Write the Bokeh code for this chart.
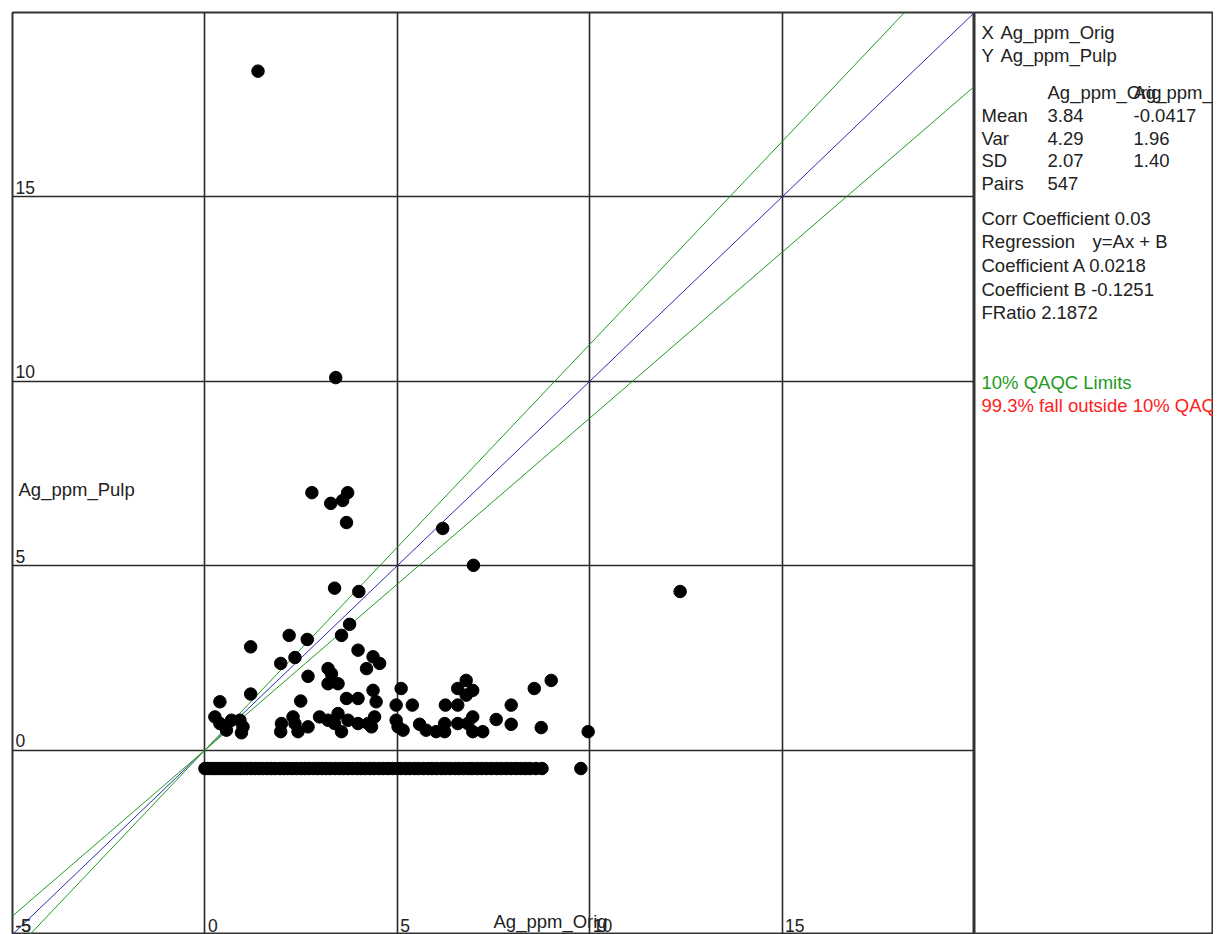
from bokeh.plotting import figure
from bokeh.layouts import row
from bokeh.models import Range1d, FixedTicker
from bokeh.core.properties import value
from bokeh.embed import file_html
from bokeh.resources import INLINE

FONT = "Liberation Sans"

# ---- data ----
orig_hi = [1.38, 3.40, 2.78, 3.27, 3.58, 3.71, 3.68, 6.18, 6.98, 12.35, 3.37, 4.00,
           2.19, 2.66, 3.55, 3.76, 1.19, 3.98, 4.37, 4.54, 4.20, 1.97, 2.34, 3.20,
           3.29, 2.68, 3.20, 3.46, 5.10, 4.37, 1.19, 0.39, 2.49, 3.68, 3.98, 4.45,
           4.97, 0.26, 0.39, 0.56, 0.69, 0.91, 0.99, 0.95, 1.99, 1.97, 2.29, 2.34,
           2.42, 2.68, 2.98, 3.20, 3.37, 3.46, 3.55, 3.72, 3.98, 4.24, 4.41, 4.33,
           4.97, 5.02, 5.39, 5.15, 5.58, 5.75, 6.01, 6.23, 6.23, 6.25, 6.57, 6.57,
           6.79, 6.57, 6.96, 6.79, 6.96, 6.83, 6.96, 7.22, 7.57, 7.96, 7.96, 8.56,
           9.00, 8.74, 9.96]
pulp_hi = [18.41, 10.10, 6.98, 6.69, 6.77, 6.98, 6.17, 6.01, 5.01, 4.30, 4.39, 4.30,
           3.11, 3.00, 3.11, 3.41, 2.80, 2.71, 2.53, 2.35, 2.21, 2.35, 2.51, 2.21,
           2.07, 2.00, 1.80, 1.80, 1.67, 1.62, 1.52, 1.31, 1.33, 1.40, 1.40, 1.31,
           1.22, 0.90, 0.72, 0.54, 0.81, 0.81, 0.63, 0.47, 0.72, 0.50, 0.90, 0.72,
           0.50, 0.63, 0.90, 0.81, 0.72, 0.99, 0.50, 0.81, 0.72, 0.72, 0.90, 0.63,
           0.81, 0.63, 1.22, 0.54, 0.70, 0.54, 0.50, 0.72, 0.50, 1.22, 1.22, 0.72,
           1.89, 1.67, 1.62, 1.49, 0.90, 0.72, 0.50, 0.50, 0.83, 1.22, 0.70, 1.67,
           1.89, 0.61, 0.50]

# pairs whose pulp value sits on the -0.5 row
bdl_orig = [0.0, 0.08, 0.17, 0.25, 0.33, 0.42, 0.5, 0.58, 0.66, 0.75, 0.83, 0.92,
            1.0, 1.1, 1.2, 1.3, 1.4, 1.5, 1.62, 1.72, 1.83, 1.95, 2.05, 2.15, 2.27,
            2.38, 2.5, 2.6, 2.7, 2.82, 2.93, 3.05, 3.15, 3.25, 3.38, 3.5, 3.6, 3.72,
            3.83, 3.95, 4.05, 4.17, 4.3, 4.4, 4.52, 4.63, 4.75, 4.87, 5.0, 5.1, 5.22,
            5.33, 5.45, 5.55, 5.68, 5.8, 5.9, 6.02, 6.15, 6.25, 6.37, 6.5, 6.6, 6.72,
            6.85, 6.95, 7.08, 7.2, 7.32, 7.45, 7.58, 7.7, 7.83, 7.95, 8.08, 8.2, 8.33,
            8.45, 8.6, 8.76, 9.77]
bdl_pulp_value = -0.5

axis_min, axis_max = -5, 20
tick_values = [-5, 0, 5, 10, 15]
tick_labels = ["-5", "0", "5", "10", "15"]
limit_pct = 0.10

x_title = "Ag_ppm_Orig"
y_title = "Ag_ppm_Pulp"

stats_rows = ["Mean", "Var", "SD", "Pairs"]
stats_orig = ["3.84", "4.29", "2.07", "547"]
stats_pulp = ["-0.0417", "1.96", "1.40", ""]
summary_lines = ["Corr Coefficient 0.03", "Coefficient A 0.0218",
                 "Coefficient B -0.1251", "FRatio 2.1872"]

TXT = "18.5px"

# ---- main plot ----
p = figure(width=974, height=934, output_backend="svg", toolbar_location=None,
           x_range=Range1d(axis_min, axis_max), y_range=Range1d(axis_min, axis_max),
           min_border_left=12, min_border_top=12, min_border_right=0, min_border_bottom=0,
           background_fill_color="white", border_fill_color="white")
p.xaxis.visible = False
p.yaxis.visible = False
for g in (p.xgrid, p.ygrid):
    g.ticker = FixedTicker(ticks=[0, 5, 10, 15])
    g.grid_line_color = "#2a2a2a"
    g.grid_line_width = 1.6
p.outline_line_color = "#333333"
p.outline_line_width = 2

ends = [axis_min, axis_max]
p.line(ends, ends, line_color="#2a2ab0", line_width=1)
p.line(ends, [v * (1 + limit_pct) for v in ends], line_color="#1f9a1f", line_width=1)
p.line(ends, [v * (1 - limit_pct) for v in ends], line_color="#1f9a1f", line_width=1)

all_x = orig_hi + bdl_orig
all_y = pulp_hi + [bdl_pulp_value] * len(bdl_orig)
p.scatter(all_x, all_y, size=12.5, marker="circle", fill_color="black", line_color="black")

# tick labels drawn inside the frame
p.text(x=[axis_min] * len(tick_values), y=tick_values, text=tick_labels,
       text_font=value(FONT), text_font_size="17.5px", text_color="#222222",
       text_baseline="bottom", text_align="left", x_offset=3, y_offset=-3)
p.text(x=tick_values, y=[axis_min] * len(tick_values), text=tick_labels,
       text_font=value(FONT), text_font_size="17.5px", text_color="#222222",
       text_baseline="bottom", text_align="left", x_offset=3, y_offset=-3)
mid = (axis_min + axis_max) / 2
p.text(x=[mid], y=[axis_min], text=[x_title], text_font=value(FONT),
       text_font_size=TXT, text_color="#222222", text_baseline="bottom",
       text_align="left", y_offset=-3)
p.text(x=[axis_min], y=[mid], text=[y_title], text_font=value(FONT),
       text_font_size=TXT, text_color="#222222", text_baseline="top",
       text_align="left", x_offset=6, y_offset=5)

# ---- stats panel ----
q = figure(width=239, height=934, output_backend="svg", toolbar_location=None,
           x_range=Range1d(0, 239), y_range=Range1d(922, 0),
           min_border_left=0, min_border_top=12, min_border_right=0, min_border_bottom=0,
           background_fill_color="white", border_fill_color="white")
q.xaxis.visible = False
q.yaxis.visible = False
q.xgrid.visible = False
q.ygrid.visible = False
q.outline_line_color = "#333333"
q.outline_line_width = 2

def ptext(xs, ys, texts, color="#222222"):
    q.text(x=xs, y=ys, text=texts, text_font=value(FONT), text_font_size=TXT,
           text_color=color, text_baseline="middle", text_align="left")

ptext([7, 26, 7, 26], [20, 20, 43, 43], ["X", x_title, "Y", y_title])
ptext([73, 159], [80, 80], [x_title, y_title])
row_y = [103, 126, 148, 171]
ptext([7] * 4, row_y, stats_rows)
ptext([73] * 4, row_y, stats_orig)
ptext([159] * 4, row_y, stats_pulp)
ptext([7, 7, 7, 7], [206, 253, 277, 300], summary_lines)
ptext([7, 118], [229, 229], ["Regression", "y=Ax + B"])
ptext([7], [370], ["10% QAQC Limits"], color="#1f9a1f")
ptext([7], [393], ["99.3% fall outside 10% QAQC Limits"], color="#ff2020")

layout = row(p, q)
open("out.html", "w").write(file_html(layout, INLINE))
